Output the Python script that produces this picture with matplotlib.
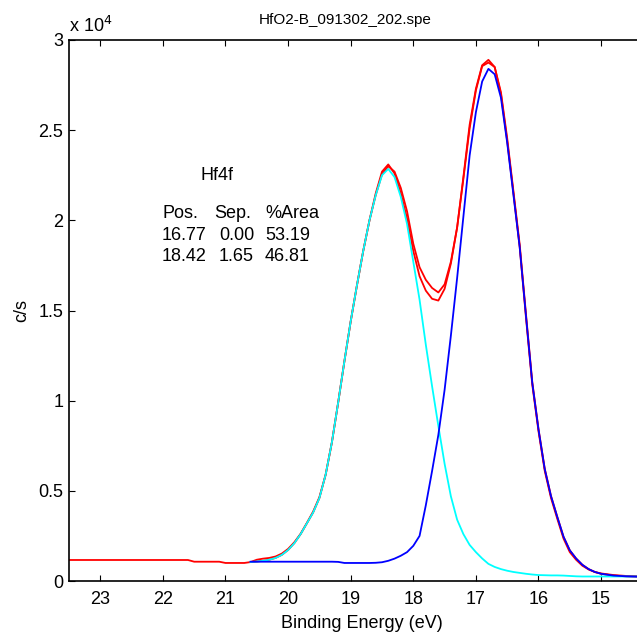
import matplotlib
matplotlib.use('Agg')
import matplotlib.pyplot as plt

plt.rcParams['font.family'] = ['Liberation Sans', 'DejaVu Sans']
plt.rcParams['font.size'] = 13

# binding energy grid of the fitted components (eV)
be_fit = [20.6, 20.5, 20.4, 20.3, 20.2, 20.1, 20.0,
          19.9, 19.8, 19.7, 19.6, 19.5, 19.4, 19.3, 19.2, 19.1, 19.0,
          18.9, 18.8, 18.7, 18.6, 18.5, 18.4, 18.3, 18.2, 18.1, 18.0,
          17.9, 17.8, 17.7, 17.6, 17.5, 17.4, 17.3, 17.2, 17.1, 17.0,
          16.9, 16.8, 16.7, 16.6, 16.5, 16.4, 16.3, 16.2, 16.1, 16.0,
          15.9, 15.8, 15.7, 15.6, 15.5, 15.4, 15.3, 15.2, 15.1, 15.0,
          14.8, 14.6, 14.4]

# components in units of 1e4 c/s
hf4f_52 = [0.105, 0.108, 0.112, 0.118, 0.128, 0.145, 0.172,
           0.21, 0.26, 0.32, 0.38, 0.46, 0.59, 0.77, 0.99, 1.22, 1.44,
           1.64, 1.83, 2.00, 2.14, 2.25, 2.285, 2.24, 2.13, 1.98, 1.77,
           1.56, 1.31, 1.08, 0.86, 0.65, 0.47, 0.34, 0.26, 0.20, 0.16,
           0.125, 0.095, 0.078, 0.066, 0.057, 0.05, 0.045, 0.04, 0.036, 0.033,
           0.032, 0.031, 0.031, 0.030, 0.028, 0.026, 0.025, 0.025, 0.025, 0.025,
           0.025, 0.025, 0.025]

hf4f_72 = [0.107, 0.107, 0.107, 0.107, 0.107, 0.107, 0.107,
           0.107, 0.107, 0.107, 0.107, 0.107, 0.107, 0.107, 0.106, 0.100, 0.100,
           0.100, 0.100, 0.100, 0.101, 0.104, 0.112, 0.124, 0.14, 0.16, 0.195,
           0.25, 0.42, 0.61, 0.81, 1.06, 1.36, 1.68, 2.02, 2.36, 2.60,
           2.77, 2.84, 2.81, 2.68, 2.43, 2.14, 1.85, 1.47, 1.10, 0.84,
           0.62, 0.47, 0.355, 0.245, 0.17, 0.125, 0.09, 0.066, 0.05, 0.04,
           0.03, 0.026, 0.024]

envelope = [0.105, 0.108, 0.112, 0.118, 0.128, 0.145, 0.172,
            0.21, 0.26, 0.32, 0.38, 0.46, 0.59, 0.77, 0.99, 1.22, 1.44,
            1.64, 1.83, 2.00, 2.14, 2.255, 2.30, 2.27, 2.18, 2.05, 1.87,
            1.74, 1.67, 1.625, 1.60, 1.645, 1.77, 1.96, 2.23, 2.51, 2.72,
            2.855, 2.875, 2.85, 2.71, 2.455, 2.16, 1.865, 1.48, 1.105, 0.843,
            0.622, 0.471, 0.356, 0.245, 0.17, 0.125, 0.09, 0.066, 0.05, 0.04,
            0.03, 0.026, 0.024]

# measured spectrum
be_raw = [23.5, 22.0, 21.6, 21.5, 21.1, 21.0, 20.7, 20.6, 20.5, 20.4, 20.3,
          20.2, 20.1, 20.0, 19.9, 19.8, 19.7, 19.6, 19.5, 19.4, 19.3, 19.2,
          19.1, 19.0, 18.9, 18.8, 18.7, 18.6, 18.5, 18.4, 18.3, 18.2, 18.1,
          18.0, 17.9, 17.8, 17.7, 17.6, 17.5, 17.4, 17.3, 17.2, 17.1, 17.0,
          16.9, 16.8, 16.7, 16.6, 16.5, 16.4, 16.3, 16.2, 16.1, 16.0, 15.9,
          15.8, 15.7, 15.6, 15.5, 15.4, 15.3, 15.2, 15.1, 15.0, 14.8, 14.6, 14.4]
counts_raw = [0.1165, 0.1165, 0.1165, 0.107, 0.107, 0.100, 0.100, 0.105, 0.118, 0.124, 0.128,
              0.136, 0.152, 0.178, 0.215, 0.262, 0.322, 0.385, 0.465, 0.59, 0.77, 0.99,
              1.22, 1.44, 1.64, 1.83, 2.00, 2.15, 2.27, 2.31, 2.26, 2.15, 2.01,
              1.83, 1.69, 1.61, 1.565, 1.555, 1.62, 1.76, 1.96, 2.24, 2.53, 2.73,
              2.86, 2.89, 2.85, 2.70, 2.44, 2.15, 1.85, 1.46, 1.09, 0.83, 0.61,
              0.46, 0.345, 0.235, 0.16, 0.118, 0.085, 0.064, 0.05, 0.042, 0.033, 0.028, 0.026]

yticks = [0, 0.5, 1, 1.5, 2, 2.5, 3]
ytick_labels = ['0', '0.5', '1', '1.5', '2', '2.5', '3']
xticks = [15, 16, 17, 18, 19, 20, 21, 22, 23]

W, H = 637, 633
fig = plt.figure(figsize=(W / 100, H / 100), dpi=100)
ax = fig.add_axes([69 / W, 52 / H, 594.7 / W, 541 / H])

ax.plot(be_raw, counts_raw, color='red', lw=1.3)
ax.plot(be_fit, envelope, color='red', lw=1.3)
ax.plot(be_fit, hf4f_52, color='cyan', lw=1.3)
ax.plot(be_fit, hf4f_72, color='blue', lw=1.3)

ax.set_xlim(23.5, 14.0)
ax.set_ylim(0, 3)
ax.set_xticks(xticks)
ax.set_yticks(yticks)
ax.set_yticklabels(ytick_labels)
ax.tick_params(direction='in', top=True, right=True, length=4.3, width=0.8,
               labelsize=13)
ax.tick_params(axis='x', pad=7.5)
ax.tick_params(axis='y', pad=4)
for s in ax.spines.values():
    s.set_linewidth(1.2)

fig.text(69 / W, 1 - 32 / H, 'x 10$^{4}$', ha='left', va='baseline', fontsize=13)
fig.text(345 / W, 1 - 20 / H, 'HfO2-B_091302_202.spe', ha='center', va='center', fontsize=11)
fig.text(362 / W, 1 - 623 / H, 'Binding Energy (eV)', ha='center', va='center', fontsize=13)
fig.text(22 / W, 1 - 310 / H, 'c/s', ha='center', va='center', rotation=90, fontsize=13)

fig.text(201 / W, 1 - 175 / H, 'Hf4f', ha='left', va='center', fontsize=13)
rows = [('Pos.', 'Sep.', '%Area'), ('16.77', '0.00', '53.19'), ('18.42', '1.65', '46.81')]
row_y = [213.5, 235.5, 257]
col_x = [[162, 214, 265], [162, 219, 265], [162, 219, 265]]
for r, y, cx in zip(rows, row_y, col_x):
    for t, x in zip(r, cx):
        fig.text(x / W, 1 - y / H, t, ha='left', va='center', fontsize=13)

fig.savefig('out.png', dpi=100)
